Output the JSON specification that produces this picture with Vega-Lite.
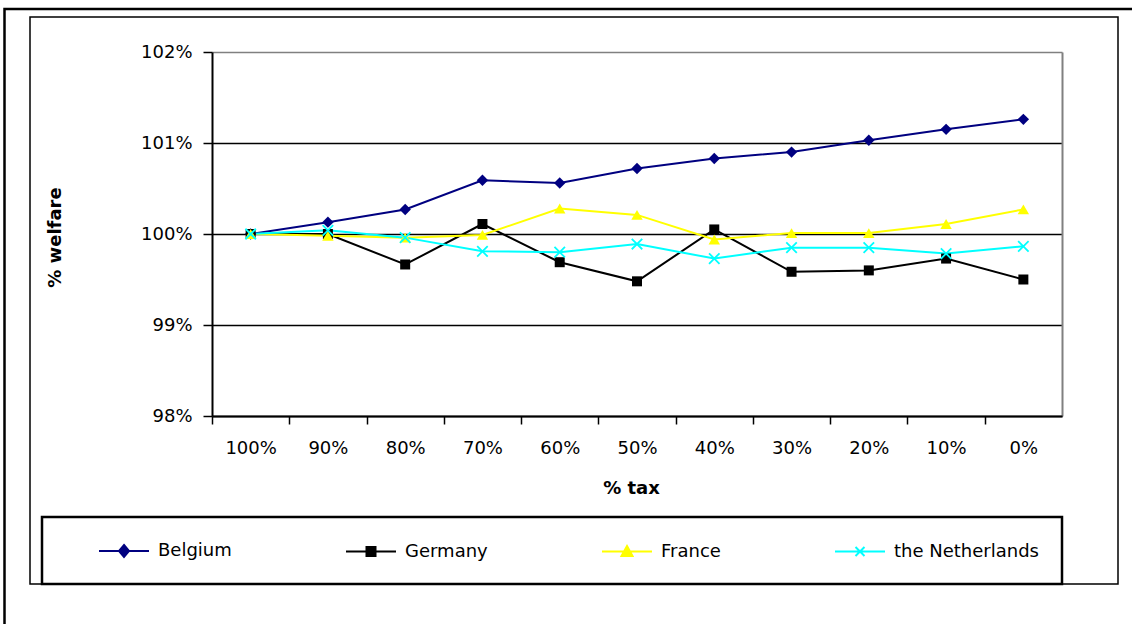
{
  "$schema": "https://vega.github.io/schema/vega-lite/v6.json",
  "width": 1088,
  "height": 567,
  "autosize": {"type": "none"},
  "padding": {"left": 30, "top": 17, "right": 14, "bottom": 40},
  "background": "white",
  "config": {"view": {"stroke": "black", "strokeWidth": 1.5}, "font": "DejaVu Sans", "legend": {"strokeWidth": 2.5}},
  "data": {"values": [
    {"tax": "100%", "country": "Belgium", "welfare": 1.0},
    {"tax": "90%", "country": "Belgium", "welfare": 1.0013},
    {"tax": "80%", "country": "Belgium", "welfare": 1.0027},
    {"tax": "70%", "country": "Belgium", "welfare": 1.0059},
    {"tax": "60%", "country": "Belgium", "welfare": 1.0056},
    {"tax": "50%", "country": "Belgium", "welfare": 1.0072},
    {"tax": "40%", "country": "Belgium", "welfare": 1.0083},
    {"tax": "30%", "country": "Belgium", "welfare": 1.009},
    {"tax": "20%", "country": "Belgium", "welfare": 1.0103},
    {"tax": "10%", "country": "Belgium", "welfare": 1.0115},
    {"tax": "0%", "country": "Belgium", "welfare": 1.0126},
    {"tax": "100%", "country": "Germany", "welfare": 1.0},
    {"tax": "90%", "country": "Germany", "welfare": 1.0},
    {"tax": "80%", "country": "Germany", "welfare": 0.99665},
    {"tax": "70%", "country": "Germany", "welfare": 1.0011},
    {"tax": "60%", "country": "Germany", "welfare": 0.9969},
    {"tax": "50%", "country": "Germany", "welfare": 0.9948},
    {"tax": "40%", "country": "Germany", "welfare": 1.0005},
    {"tax": "30%", "country": "Germany", "welfare": 0.99585},
    {"tax": "20%", "country": "Germany", "welfare": 0.996},
    {"tax": "10%", "country": "Germany", "welfare": 0.9973},
    {"tax": "0%", "country": "Germany", "welfare": 0.995},
    {"tax": "100%", "country": "France", "welfare": 1.0},
    {"tax": "90%", "country": "France", "welfare": 0.9998},
    {"tax": "80%", "country": "France", "welfare": 0.9996},
    {"tax": "70%", "country": "France", "welfare": 0.9999},
    {"tax": "60%", "country": "France", "welfare": 1.0028},
    {"tax": "50%", "country": "France", "welfare": 1.0021},
    {"tax": "40%", "country": "France", "welfare": 0.9994},
    {"tax": "30%", "country": "France", "welfare": 1.0001},
    {"tax": "20%", "country": "France", "welfare": 1.0001},
    {"tax": "10%", "country": "France", "welfare": 1.0011},
    {"tax": "0%", "country": "France", "welfare": 1.0027},
    {"tax": "100%", "country": "the Netherlands", "welfare": 1.0},
    {"tax": "90%", "country": "the Netherlands", "welfare": 1.0004},
    {"tax": "80%", "country": "the Netherlands", "welfare": 0.9996},
    {"tax": "70%", "country": "the Netherlands", "welfare": 0.9981},
    {"tax": "60%", "country": "the Netherlands", "welfare": 0.998},
    {"tax": "50%", "country": "the Netherlands", "welfare": 0.9989},
    {"tax": "40%", "country": "the Netherlands", "welfare": 0.9973},
    {"tax": "30%", "country": "the Netherlands", "welfare": 0.9985},
    {"tax": "20%", "country": "the Netherlands", "welfare": 0.9985},
    {"tax": "10%", "country": "the Netherlands", "welfare": 0.99785},
    {"tax": "0%", "country": "the Netherlands", "welfare": 0.99865}
  ]},
  "encoding": {
    "x": {
      "field": "tax",
      "type": "ordinal",
      "sort": ["100%", "90%", "80%", "70%", "60%", "50%", "40%", "30%", "20%", "10%", "0%"],
      "bandPosition": 0.5,
      "scale": {"type": "band", "range": [182, 1032], "paddingInner": 0, "paddingOuter": 0},
      "axis": {
        "orient": "bottom",
        "offset": -168,
        "labelAngle": 0,
        "tickBand": "extent",
        "grid": false,
        "domainColor": "black",
        "domainWidth": 2,
        "tickColor": {"condition": {"test": "datum.value === '0%'", "value": "#808080"}, "value": "black"},
        "tickSize": {"condition": {"test": "datum.value === '0%'", "value": -364}, "value": 8},
        "tickWidth": {"condition": {"test": "datum.value === '0%'", "value": 2}, "value": 1.5},
        "labelFont": "DejaVu Sans",
        "labelFontSize": 18,
        "labelColor": "black",
        "labelPadding": {"condition": {"test": "datum.value === '0%'", "value": 387}, "value": 15},
        "title": "% tax",
        "titleFont": "DejaVu Sans",
        "titleFontSize": 18,
        "titleFontWeight": "bold",
        "titleColor": "black",
        "titleX": 601,
        "titleY": 72,
        "titleAlign": "center",
        "titleBaseline": "middle"
      }
    },
    "y": {
      "field": "welfare",
      "type": "quantitative",
      "scale": {"domain": [0.98, 1.02], "range": [399, 35], "zero": false, "nice": false},
      "axis": {
        "values": [0.98, 0.99, 1, 1.01, 1.02],
        "format": ".0%",
        "offset": -182,
        "grid": true,
        "gridColor": {"condition": {"test": "datum.value > 1.015", "value": "#808080"}, "value": "black"},
        "gridWidth": 1.5,
        "domainColor": "black",
        "domainWidth": 2,
        "tickColor": "black",
        "tickSize": 9,
        "tickWidth": 1.5,
        "labelFont": "DejaVu Sans",
        "labelFontSize": 18,
        "labelColor": "black",
        "labelPadding": 11,
        "title": "% welfare",
        "titleFont": "DejaVu Sans",
        "titleFontSize": 18,
        "titleFontWeight": "bold",
        "titleColor": "black",
        "titleX": -157,
        "titleY": 220,
        "titleAngle": -90,
        "titleAlign": "center",
        "titleBaseline": "middle"
      }
    }
  },
  "layer": [
    {
      "mark": {"type": "line", "strokeWidth": 2},
      "encoding": {
        "order": {"value": null},
        "color": {
          "field": "country",
          "type": "nominal",
          "scale": {"domain": ["Belgium", "Germany", "France", "the Netherlands"], "range": ["#000080", "#000000", "#FFFF00", "#00FFFF"]},
          "legend": {
            "title": null,
            "orient": "none",
            "legendX": 12,
            "legendY": 500,
            "direction": "horizontal",
            "columns": 4,
            "gridAlign": "each",
            "columnPadding": 80,
            "padding": 23,
            "strokeColor": "black",
            "symbolSize": 400,
            "labelFont": "DejaVu Sans",
            "labelFontSize": 18,
            "labelColor": "black",
            "labelOffset": 71,
            "labelLimit": 300,
            "encode": {
              "symbols": {"update": {
                "shape": {"signal": "datum.value === 'Belgium' ? 'M2.3,0H7.3M4.8,-0.6L5.3,0L4.8,0.6L4.3,0Z' : datum.value === 'Germany' ? 'M2.3,0H7.3M4.35,-0.45H5.25V0.45H4.35Z' : datum.value === 'France' ? 'M2.3,0H7.3M4.8,-0.55L5.35,0.45H4.25Z' : 'M2.3,0H7.3M4.35,-0.45L5.25,0.45M4.35,0.45L5.25,-0.45'"},
                "fill": {"scale": "color", "field": "value"},
                "stroke": {"scale": "color", "field": "value"},
                "strokeWidth": {"value": 2},
                "size": {"value": 400},
                "opacity": {"value": 1}
              }}
            }
          }
        }
      }
    },
    {
      "transform": [{"filter": "datum.country === 'Belgium'"}],
      "mark": {"type": "point", "shape": "diamond", "filled": true, "size": 130, "color": "#000080", "opacity": 1}
    },
    {
      "transform": [{"filter": "datum.country === 'Germany'"}],
      "mark": {"type": "point", "shape": "square", "filled": true, "size": 100, "color": "#000000", "opacity": 1}
    },
    {
      "transform": [{"filter": "datum.country === 'France'"}],
      "mark": {"type": "point", "shape": "triangle-up", "filled": true, "size": 130, "color": "#FFFF00", "opacity": 1}
    },
    {
      "transform": [{"filter": "datum.country === 'the Netherlands'"}],
      "mark": {"type": "point", "shape": "M-1,-1L1,1M-1,1L1,-1", "filled": false, "strokeWidth": 1.8, "color": "#00FFFF", "opacity": 1},
      "encoding": {
        "size": {
          "field": "welfare",
          "type": "quantitative",
          "scale": {"range": [110, 110]},
          "legend": {
            "title": null,
            "orient": "none",
            "legendX": -25.5,
            "legendY": -8,
            "padding": 800,
            "values": [1],
            "strokeColor": "black",
            "symbolOpacity": 0,
            "labelExpr": "''"
          }
        }
      }
    }
  ]
}
